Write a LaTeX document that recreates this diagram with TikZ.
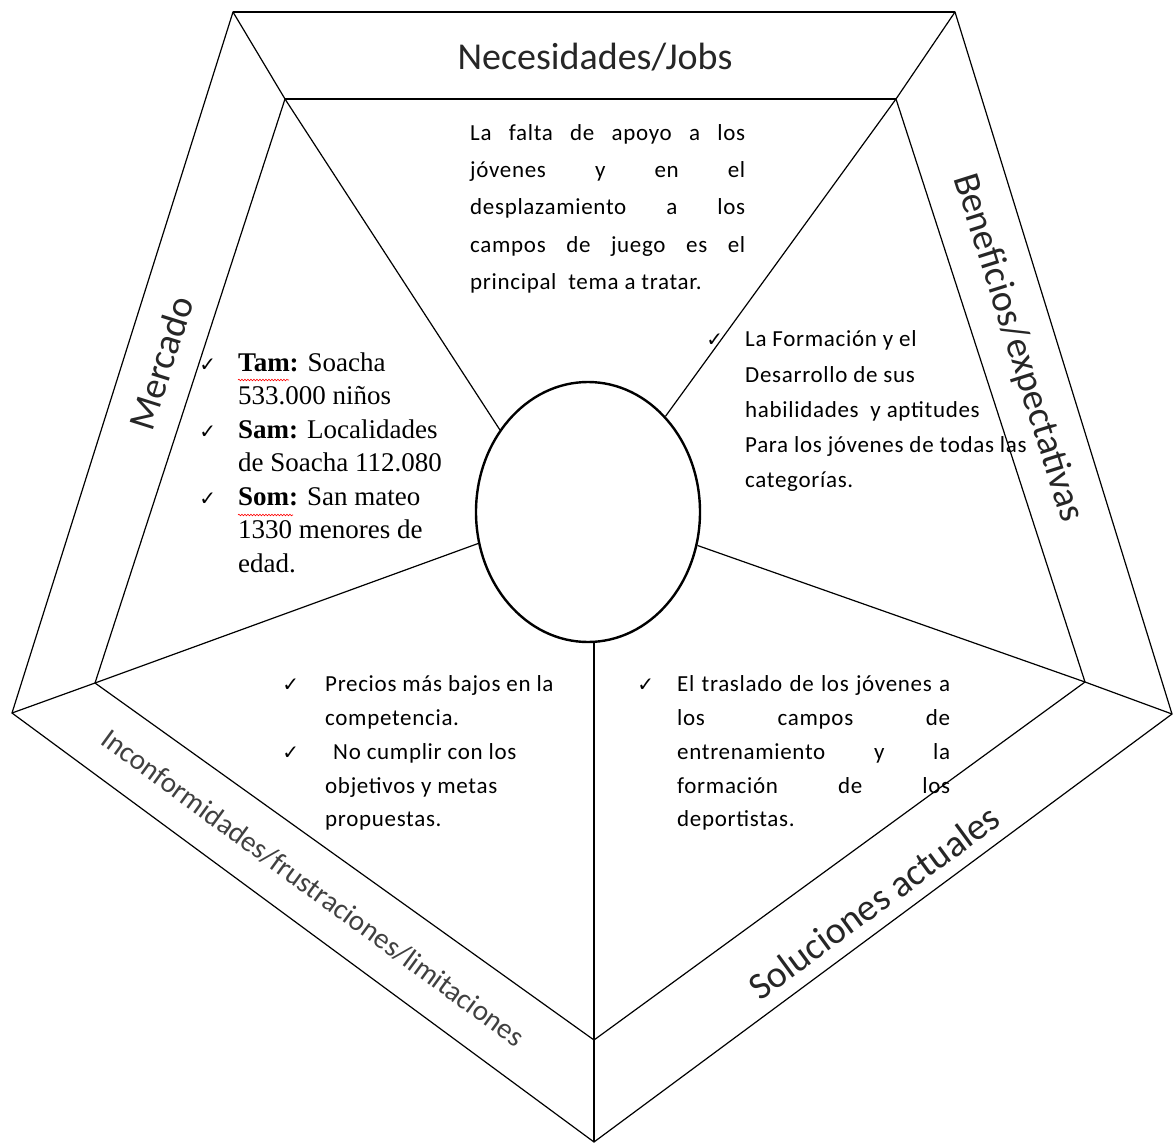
\documentclass[tikz,border=0pt]{standalone}
\usepackage{fontspec}
\setmainfont{Carlito}
\newfontfamily\calib{Carlito}[LetterSpace=3]
\newfontfamily\headf{Carlito}
\newfontfamily\tnr{Liberation Serif}
\newfontfamily\dejavu{DejaVu Sans}
\usetikzlibrary{shapes.geometric,decorations.pathmorphing}
\newcommand{\chk}{{\dejavu\fontsize{20}{20}\selectfont ✓}}
\newcommand{\bodyf}[1]{\calib\fontsize{23}{#1}\selectfont}
\begin{document}
\begin{tikzpicture}[x=1pt,y=-1pt,
  edge/.style={line width=1.2pt, line join=miter},
  head/.style={font=\headf\fontsize{38}{42}\selectfont, inner sep=0pt, text=black!85},
  txt/.style={inner sep=0pt, align=left, anchor=north west},
  wavy/.style={red, line width=0.6pt, decorate, decoration={snake, amplitude=0.8pt, segment length=3pt}}
]
\useasboundingbox (0,0) rectangle (1173,1143);
% outer vertices
\coordinate (oTL) at (233,12);
\coordinate (oTR) at (955,12);
\coordinate (oR)  at (1172,714);
\coordinate (oB)  at (594,1142);
\coordinate (oL)  at (12,713);
% inner vertices
\coordinate (iTL) at (285,99);
\coordinate (iTR) at (896,99);
\coordinate (iR)  at (1085,682);
\coordinate (iB)  at (594,1040);
\coordinate (iL)  at (95,683);
% centre ellipse
\node[draw, ellipse, line width=2.4pt, minimum width=224pt, minimum height=260pt, inner sep=0pt] (c) at (588,512) {};
% pentagons
\draw[edge] (oTL) -- (oTR) -- (oR) -- (oB) -- (oL) -- cycle;
\draw[edge] (iTL) -- (iTR) -- (iR) -- (iB) -- (iL) -- cycle;
\draw[line width=1.7pt] (oTL) -- (oTR);
\draw[line width=1.7pt] (iTL) -- (iTR);
% corner links
\draw[edge] (oTL) -- (iTL);
\draw[edge] (oTR) -- (iTR);
\draw[edge] (oR) -- (iR);
\draw[edge] (oL) -- (iL);
% spokes
\draw[edge] (iTL) -- (c.137);
\draw[edge] (iTR) -- (c.51);
\draw[edge] (iR) -- (c.-17);
\draw[edge] (iL) -- (c.196.5);
\draw[edge] (iB |- c.south) -- (oB);
% headings
\node[head] (hN) at (595,57) {Necesidades/Jobs};
\node[head, rotate=72.5] (hM) at (161,363) {Mercado};
\node[head, rotate=-72.5] (hB) at (1018,348) {Beneficios/expectativas};
\node[head, rotate=36.3] (hS) at (874,902) {Soluciones actuales};
\node[head, font=\headf\fontsize{29}{33}\selectfont, text=black!75, rotate=-36.2] (hI) at (313,888) {Inconformidades/frustraciones/limitaciones};
% top text
\node[txt, font={\bodyf{37.3}}] (tN) at (470,114) {\strut\makebox[275pt][s]{La falta de apoyo a los}\\
\makebox[275pt][s]{jóvenes y en el}\\
\makebox[275pt][s]{desplazamiento a los}\\
\makebox[275pt][s]{campos de juego es el}\\
principal\ \ tema a tratar.};
% right text
\node[txt, font={\bodyf{35.25}}] (tB) at (745,322) {\strut\llap{\chk\hspace{22pt}}La Formación y el\\
Desarrollo de sus\\
habilidades\ \ y aptitudes\\
Para los jóvenes de todas las\\
categorías.};
% left text (serif)
\node[txt, font={\tnr\fontsize{27}{33.5}\selectfont}] (tM) at (238,347.6) {\strut\llap{\chk\hspace{22pt}}\textbf{Tam:} Soacha\\
533.000 niños\\
\llap{\chk\hspace{22pt}}\textbf{Sam:} Localidades\\
de Soacha 112.080\\
\llap{\chk\hspace{22pt}}\textbf{Som:} San mateo\\
1330 menores de\\
edad.};
\draw[wavy] (238,380) -- (289,380);
\draw[wavy] (238,515) -- (293,515);
% bottom-left text
\node[txt, font={\bodyf{33.75}}] (tI) at (325,668) {\strut\llap{\chk\hspace{26pt}}Precios más bajos en la\\
competencia.\\
\llap{\chk\hspace{26pt}}\hspace{8pt}No cumplir con los\\
objetivos y metas\\
propuestas.};
% bottom-right text
\node[txt, font={\bodyf{33.75}}] (tS) at (677,668) {\strut\llap{\chk\hspace{23pt}}\makebox[273pt][s]{El traslado de los jóvenes a}\\
\makebox[273pt][s]{los campos de}\\
\makebox[273pt][s]{entrenamiento y la}\\
\makebox[273pt][s]{formación de los}\\
deportistas.};
\end{tikzpicture}
\end{document}
